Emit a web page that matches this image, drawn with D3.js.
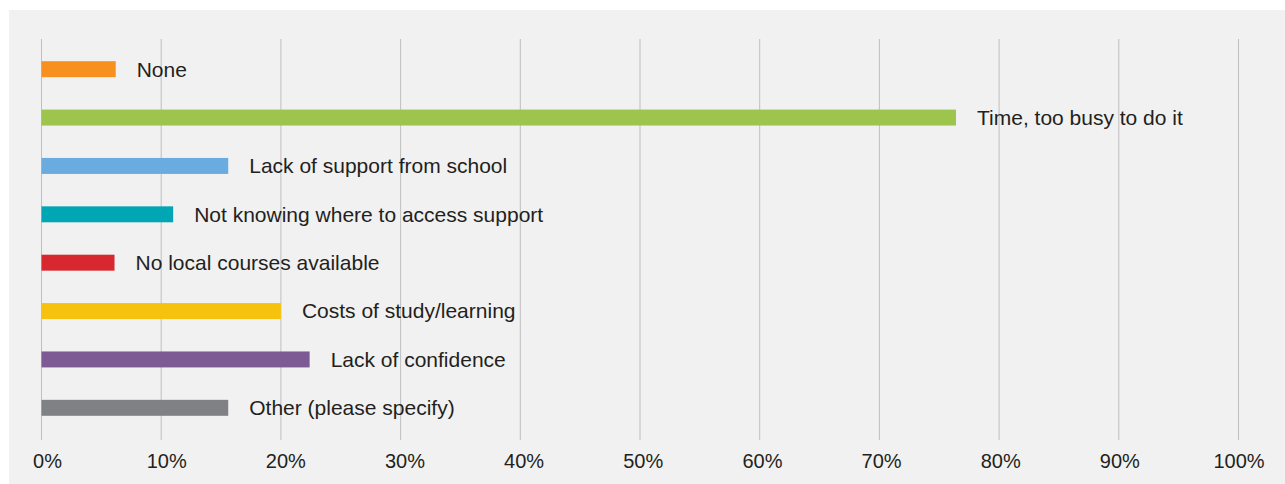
<!doctype html>
<html lang="en">
  <head>
    <meta charset="utf-8">
    <title>Barriers bar chart</title>
    <script src="https://cdn.jsdelivr.net/npm/d3@7"></script>
    <style>
      body { margin: 0; background: #fff; }
      text { font-family: "Liberation Sans", Arial, sans-serif; fill: #231f20; }
    </style>
  </head>
  <body>
    <script>
      const categories = [
        "None",
        "Time, too busy to do it",
        "Lack of support from school",
        "Not knowing where to access support",
        "No local courses available",
        "Costs of study/learning",
        "Lack of confidence",
        "Other (please specify)"
      ];
      const values = [6.2, 76.4, 15.6, 11.0, 6.1, 20.0, 22.4, 15.6];
      const colors = ["#f7901e", "#9dc44d", "#6aace0", "#00a6b4", "#d7282f", "#f6c20e", "#7d5a94", "#808184"];
      const ticks = [0, 10, 20, 30, 40, 50, 60, 70, 80, 90, 100];

      const w = 1285;
      const h = 484;

      const svg = d3.select("body")
                    .append("svg")
                    .attr("width", w)
                    .attr("height", h);

      svg.append("rect")
         .attr("x", 9)
         .attr("y", 10)
         .attr("width", w - 9)
         .attr("height", h - 10)
         .attr("fill", "#f1f1f1");

      const xScale = d3.scaleLinear()
                       .domain([0, 100])
                       .range([41.5, 1238.5]);
      // tick labels in the original sit a little right of the gridlines at the low end
      const labelScale = d3.scaleLinear()
                           .domain([0, 100])
                           .range([47, 1238.5]);
      const yScale = d3.scaleBand()
                       .domain(categories)
                       .range([45, 432])
                       .paddingInner(0.67)
                       .paddingOuter(0.335);

      // gridlines
      svg.append("g")
         .selectAll("line")
         .data(ticks)
         .enter()
         .append("line")
         .attr("x1", (d) => xScale(d))
         .attr("x2", (d) => xScale(d))
         .attr("y1", 39)
         .attr("y2", 440)
         .attr("stroke", "#bfbfbf")
         .attr("stroke-width", 1);

      const xAxis = d3.axisBottom(labelScale)
                      .tickValues(ticks)
                      .tickFormat((d) => d + "%")
                      .tickSize(0)
                      .tickPadding(0);

      const gx = svg.append("g")
                    .attr("transform", "translate(0, 454)")
                    .call(xAxis);
      gx.select(".domain").remove();
      gx.selectAll("text")
        .attr("dy", "0.71em")
        .style("font-size", "20px")
        .attr("fill", "#231f20");

      svg.selectAll("rect.bar")
         .data(categories)
         .enter()
         .append("rect")
         .attr("class", "bar")
         .attr("x", xScale(0))
         .attr("y", (d) => yScale(d))
         .attr("width", (d, i) => xScale(values[i]) - xScale(0))
         .attr("height", yScale.bandwidth())
         .attr("fill", (d, i) => colors[i]);

      svg.selectAll("text.label")
         .data(categories)
         .enter()
         .append("text")
         .attr("class", "label")
         .attr("x", (d, i) => xScale(values[i]) + 21)
         .attr("y", (d) => yScale(d) + yScale.bandwidth() / 2)
         .attr("dy", "0.35em")
         .style("font-size", "21px")
         .text((d) => d);
    </script>
  </body>
</html>
